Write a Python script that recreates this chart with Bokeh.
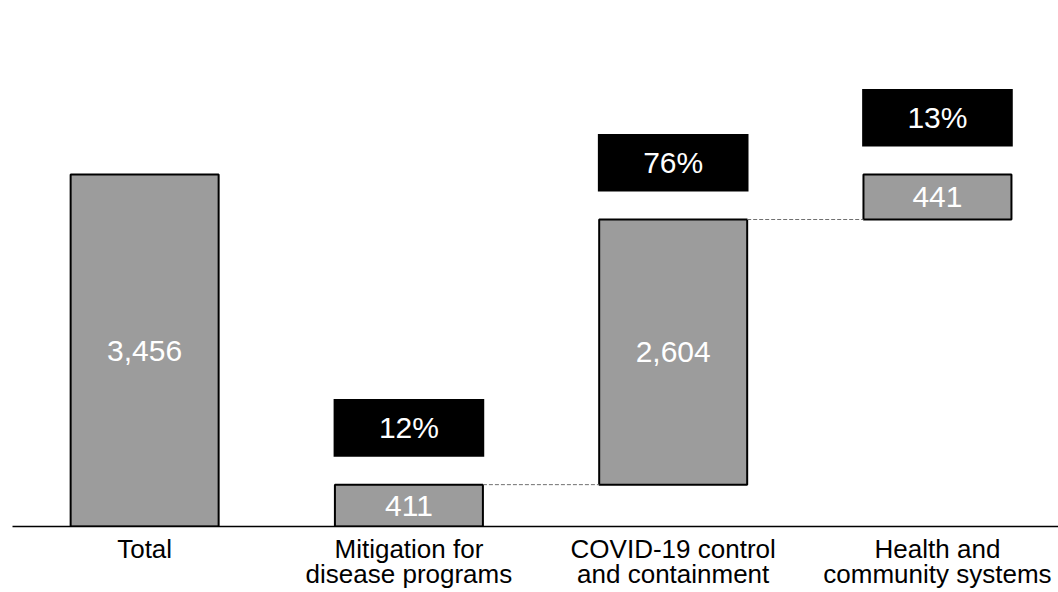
from bokeh.plotting import figure
from bokeh.models import Range1d, FixedTicker, ColumnDataSource
from bokeh.core.properties import value
from bokeh.embed import file_html
from bokeh.resources import INLINE

categories = ["Total", "Mitigation for\ndisease programs", "COVID-19 control\nand containment", "Health and\ncommunity systems"]
values = [3456, 411, 2604, 441]
shares = ["12%", "76%", "13%"]

FONT = "Liberation Sans"

xs = list(range(len(categories)))
bottoms = [0]
run = 0
for v in values[1:]:
    bottoms.append(run)
    run += v
tops = [b + v for b, v in zip(bottoms, values)]
mids = [(b + t) / 2 for b, t in zip(bottoms, tops)]
labels = [f"{v:,}" for v in values]

p = figure(width=1058, height=592, output_backend="svg", toolbar_location=None,
           x_range=Range1d(-0.5, 3.458), y_range=Range1d(0, 5166),
           min_border_left=12, min_border_right=0, min_border_top=0,
           outline_line_color=None)
p.grid.visible = False
p.yaxis.visible = False

ax = p.xaxis[0]
ax.ticker = FixedTicker(ticks=xs)
ax.major_label_overrides = {i: c for i, c in enumerate(categories)}
ax.major_tick_line_color = None
ax.major_tick_in = 0
ax.major_tick_out = 0
ax.minor_tick_line_color = None
ax.axis_line_color = "black"
ax.axis_line_width = 1.5
ax.major_label_text_font = FONT
ax.major_label_text_font_size = "26px"
ax.major_label_text_color = "black"
ax.major_label_text_line_height = 0.85
ax.major_label_standoff = 7

bar_w = 0.56
src = ColumnDataSource(dict(x=xs, top=tops, bottom=bottoms, mid=mids, label=labels))
p.vbar(x="x", top="top", bottom="bottom", width=bar_w, source=src,
       fill_color="#9c9c9c", line_color="black", line_width=2)
p.text(x="x", y="mid", text="label", source=src, text_align="center", text_baseline="middle",
       text_color="white", text_font=value(FONT), text_font_size="30px")

# connectors
cx0 = [x + bar_w / 2 for x in xs[1:-1]]
cx1 = [x + 1 - bar_w / 2 for x in xs[1:-1]]
cy = tops[1:-1]
p.segment(x0=cx0, y0=cy, x1=cx1, y1=cy, line_color="#707070", line_width=1, line_dash="4 2")

# share boxes
gap = 275
box_h = 566
bx = xs[1:]
by = [t + gap + box_h / 2 for t in tops[1:]]
p.rect(x=bx, y=by, width=0.57, height=box_h, fill_color="black", line_color=None)
p.text(x=bx, y=by, text=shares, text_align="center", text_baseline="middle",
       text_color="white", text_font=value(FONT), text_font_size="30px")

open("out.html", "w").write(file_html(p, INLINE))
